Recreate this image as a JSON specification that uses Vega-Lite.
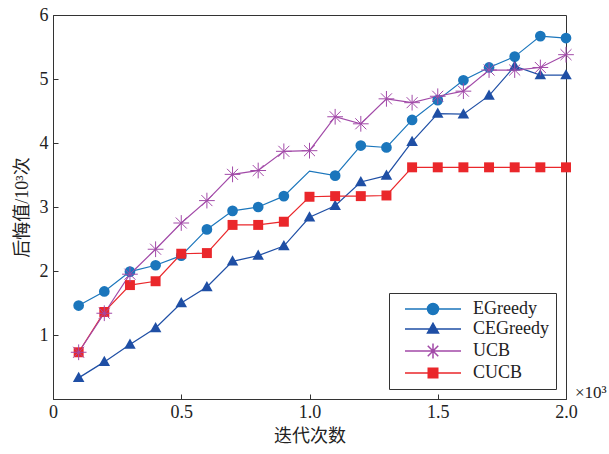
{
  "$schema": "https://vega.github.io/schema/vega-lite/v6.json",
  "autosize": "none",
  "width": 513,
  "height": 384,
  "padding": {"left": 53, "top": 15, "right": 43, "bottom": 55},
  "background": "white",
  "config": {
    "view": {"stroke": "#333", "strokeWidth": 1},
    "font": "Liberation Serif",
    "axis": {
      "domainColor": "#333",
      "tickColor": "#333",
      "labelColor": "#222",
      "titleColor": "#222",
      "labelFont": "Liberation Serif",
      "labelFontSize": 18,
      "titleFont": "Noto Sans CJK SC",
      "titleFontSize": 18,
      "titleFontWeight": "normal",
      "grid": false,
      "tickSize": -5
    },
    "legend": {
      "labelFont": "Liberation Serif",
      "labelFontSize": 18,
      "labelColor": "#222"
    }
  },
  "data": {
    "values": [
      {"algo": "EGreedy", "x": 0.1, "y": 1.46}, {"algo": "EGreedy", "x": 0.2, "y": 1.68}, {"algo": "EGreedy", "x": 0.3, "y": 1.99}, {"algo": "EGreedy", "x": 0.4, "y": 2.09}, {"algo": "EGreedy", "x": 0.5, "y": 2.24},
      {"algo": "EGreedy", "x": 0.6, "y": 2.65}, {"algo": "EGreedy", "x": 0.7, "y": 2.94}, {"algo": "EGreedy", "x": 0.8, "y": 3.0}, {"algo": "EGreedy", "x": 0.9, "y": 3.17}, {"algo": "EGreedy", "x": 1.0, "y": 3.56},
      {"algo": "EGreedy", "x": 1.1, "y": 3.49}, {"algo": "EGreedy", "x": 1.2, "y": 3.96}, {"algo": "EGreedy", "x": 1.3, "y": 3.93}, {"algo": "EGreedy", "x": 1.4, "y": 4.36}, {"algo": "EGreedy", "x": 1.5, "y": 4.67},
      {"algo": "EGreedy", "x": 1.6, "y": 4.98}, {"algo": "EGreedy", "x": 1.7, "y": 5.18}, {"algo": "EGreedy", "x": 1.8, "y": 5.35}, {"algo": "EGreedy", "x": 1.9, "y": 5.67}, {"algo": "EGreedy", "x": 2.0, "y": 5.64},
      {"algo": "CEGreedy", "x": 0.1, "y": 0.33}, {"algo": "CEGreedy", "x": 0.2, "y": 0.58}, {"algo": "CEGreedy", "x": 0.3, "y": 0.85}, {"algo": "CEGreedy", "x": 0.4, "y": 1.11}, {"algo": "CEGreedy", "x": 0.5, "y": 1.5},
      {"algo": "CEGreedy", "x": 0.6, "y": 1.75}, {"algo": "CEGreedy", "x": 0.7, "y": 2.15}, {"algo": "CEGreedy", "x": 0.8, "y": 2.24}, {"algo": "CEGreedy", "x": 0.9, "y": 2.39}, {"algo": "CEGreedy", "x": 1.0, "y": 2.84},
      {"algo": "CEGreedy", "x": 1.1, "y": 3.02}, {"algo": "CEGreedy", "x": 1.2, "y": 3.39}, {"algo": "CEGreedy", "x": 1.3, "y": 3.49}, {"algo": "CEGreedy", "x": 1.4, "y": 4.02}, {"algo": "CEGreedy", "x": 1.5, "y": 4.46},
      {"algo": "CEGreedy", "x": 1.6, "y": 4.45}, {"algo": "CEGreedy", "x": 1.7, "y": 4.74}, {"algo": "CEGreedy", "x": 1.8, "y": 5.2}, {"algo": "CEGreedy", "x": 1.9, "y": 5.06}, {"algo": "CEGreedy", "x": 2.0, "y": 5.06},
      {"algo": "CUCB", "x": 0.1, "y": 0.73}, {"algo": "CUCB", "x": 0.2, "y": 1.36}, {"algo": "CUCB", "x": 0.3, "y": 1.78}, {"algo": "CUCB", "x": 0.4, "y": 1.84}, {"algo": "CUCB", "x": 0.5, "y": 2.27},
      {"algo": "CUCB", "x": 0.6, "y": 2.28}, {"algo": "CUCB", "x": 0.7, "y": 2.72}, {"algo": "CUCB", "x": 0.8, "y": 2.72}, {"algo": "CUCB", "x": 0.9, "y": 2.77}, {"algo": "CUCB", "x": 1.0, "y": 3.16},
      {"algo": "CUCB", "x": 1.1, "y": 3.17}, {"algo": "CUCB", "x": 1.2, "y": 3.17}, {"algo": "CUCB", "x": 1.3, "y": 3.18}, {"algo": "CUCB", "x": 1.4, "y": 3.62}, {"algo": "CUCB", "x": 1.5, "y": 3.62},
      {"algo": "CUCB", "x": 1.6, "y": 3.62}, {"algo": "CUCB", "x": 1.7, "y": 3.62}, {"algo": "CUCB", "x": 1.8, "y": 3.62}, {"algo": "CUCB", "x": 1.9, "y": 3.62}, {"algo": "CUCB", "x": 2.0, "y": 3.62},
      {"algo": "UCB", "x": 0.1, "y": 0.73}, {"algo": "UCB", "x": 0.2, "y": 1.34}, {"algo": "UCB", "x": 0.3, "y": 1.95}, {"algo": "UCB", "x": 0.4, "y": 2.34}, {"algo": "UCB", "x": 0.5, "y": 2.75},
      {"algo": "UCB", "x": 0.6, "y": 3.1}, {"algo": "UCB", "x": 0.7, "y": 3.51}, {"algo": "UCB", "x": 0.8, "y": 3.57}, {"algo": "UCB", "x": 0.9, "y": 3.87}, {"algo": "UCB", "x": 1.0, "y": 3.88},
      {"algo": "UCB", "x": 1.1, "y": 4.41}, {"algo": "UCB", "x": 1.2, "y": 4.3}, {"algo": "UCB", "x": 1.3, "y": 4.69}, {"algo": "UCB", "x": 1.4, "y": 4.63}, {"algo": "UCB", "x": 1.5, "y": 4.73},
      {"algo": "UCB", "x": 1.6, "y": 4.81}, {"algo": "UCB", "x": 1.7, "y": 5.14}, {"algo": "UCB", "x": 1.8, "y": 5.14}, {"algo": "UCB", "x": 1.9, "y": 5.18}, {"algo": "UCB", "x": 2.0, "y": 5.38}
    ]
  },
  "encoding": {
    "x": {
      "field": "x", "type": "quantitative",
      "scale": {"domain": [0, 2], "nice": false},
      "axis": {
        "title": "迭代次数",
        "values": [0, 0.5, 1, 1.5, 2],
        "labelExpr": "datum.value === 0 ? '0' : format(datum.value, '.1f')",
        "labelPadding": 9,
        "titlePadding": 6,
        "labelFlush": false
      }
    },
    "y": {
      "field": "y", "type": "quantitative",
      "scale": {"domain": [0, 6], "nice": false},
      "axis": {
        "title": "后悔值/10³次",
        "titleFont": "Liberation Serif, Noto Sans CJK SC",
        "values": [1, 2, 3, 4, 5, 6],
        "labelPadding": 10,
        "titlePadding": 8,
        "labelFlush": false
      }
    }
  },
  "layer": [
    {
      "transform": [{"filter": "false"}],
      "mark": {"type": "point", "filled": true, "opacity": 1, "strokeWidth": 1.2, "size": 100},
      "encoding": {
        "color": {
          "field": "algo", "type": "nominal",
          "scale": {
            "domain": ["EGreedy", "CEGreedy", "UCB", "CUCB"],
            "range": ["#1b76bc", "#1f4fa5", "#a24aa8", "#ea272b"]
          },
          "legend": {
            "title": null,
            "orient": "bottom-right",
            "offset": 10,
            "padding": 7,
            "strokeColor": "#333",
            "fillColor": "white",
            "symbolSize": 100,
            "symbolOffset": 28,
            "labelOffset": 31,
            "rowPadding": 2
          }
        },
        "shape": {
          "field": "algo", "type": "nominal",
          "scale": {
            "domain": ["EGreedy", "CEGreedy", "UCB", "CUCB"],
            "range": [
              "M-5.6,0L5.6,0M-1.1,0A1.1,1.1 0 1,0 1.1,0A1.1,1.1 0 1,0 -1.1,0Z",
              "M-5.6,0L5.6,0M0,-1.15L1.1,0.8L-1.1,0.8Z",
              "M-5.6,0L5.6,0M0,-1.5L0,1.5M-1.05,-1.05L1.05,1.05M-1.05,1.05L1.05,-1.05",
              "M-5.6,0L5.6,0M-0.95,-0.95L0.95,-0.95L0.95,0.95L-0.95,0.95Z"
            ]
          }
        },
        "stroke": {
          "field": "algo", "type": "nominal",
          "scale": {
            "domain": ["EGreedy", "CEGreedy", "UCB", "CUCB"],
            "range": ["#1b76bc", "#1f4fa5", "#a24aa8", "#ea272b"]
          }
        }
      }
    },
    {
      "mark": {"type": "line", "strokeWidth": 1.2},
      "encoding": {
        "color": {"field": "algo", "type": "nominal"}
      }
    },
    {
      "transform": [{"filter": "datum.algo === 'EGreedy' && datum.x !== 1.0"}],
      "mark": {"type": "point", "shape": "circle", "filled": true, "opacity": 1, "size": 115, "color": "#1b76bc"}
    },
    {
      "transform": [{"filter": "datum.algo === 'CEGreedy'"}],
      "mark": {"type": "point", "shape": "M0,-1.15L1.1,0.8L-1.1,0.8Z", "filled": true, "opacity": 1, "size": 110, "color": "#1f4fa5"}
    },
    {
      "transform": [{"filter": "datum.algo === 'CUCB'"}],
      "mark": {"type": "point", "shape": "M-0.95,-0.95L0.95,-0.95L0.95,0.95L-0.95,0.95Z", "filled": true, "opacity": 1, "size": 110, "color": "#ea272b"}
    },
    {
      "transform": [{"filter": "datum.algo === 'UCB'"}],
      "mark": {"type": "point", "shape": "M-1.5,0L1.5,0M0,-1.5L0,1.5M-1.05,-1.05L1.05,1.05M-1.05,1.05L1.05,-1.05", "filled": false, "opacity": 1, "size": 110, "strokeWidth": 1, "color": "#a24aa8"}
    },
    {
      "transform": [{"filter": "datum.algo === 'EGreedy' && datum.x === 2"}],
      "mark": {"type": "text", "font": "Liberation Serif", "fontSize": 17, "align": "left", "baseline": "bottom", "dx": 9, "dy": 3, "color": "#222"},
      "encoding": {
        "x": {"datum": 2},
        "y": {"datum": 0},
        "text": {"value": "×10³"}
      }
    }
  ]
}
